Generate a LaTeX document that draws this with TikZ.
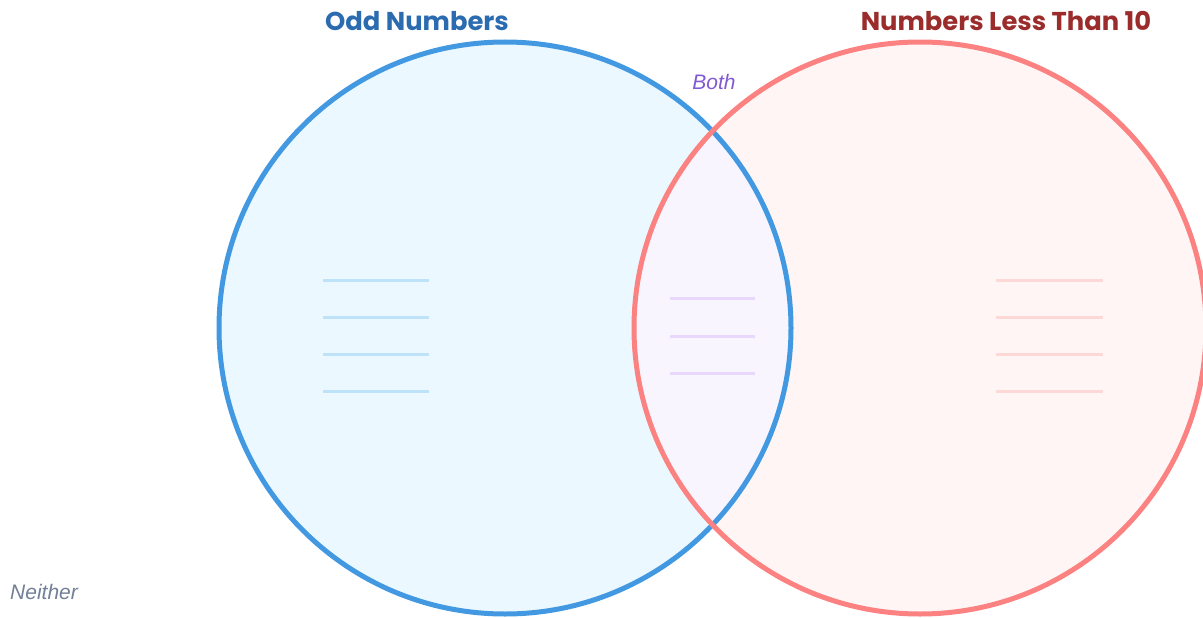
\documentclass[tikz,border=0pt]{standalone}
\usepackage{fontspec}
\newfontfamily\headfont{Poppins}
\newfontfamily\notefont{Liberation Sans}
\definecolor{oddline}{HTML}{4299E1}
\definecolor{oddfill}{HTML}{EBF8FF}
\definecolor{oddtext}{HTML}{2B6CB0}
\definecolor{oddrule}{HTML}{BEE3F8}
\definecolor{lessline}{HTML}{FC8181}
\definecolor{lessfill}{HTML}{FFF5F5}
\definecolor{lesstext}{HTML}{9B2C2C}
\definecolor{lessrule}{HTML}{FED7D7}
\definecolor{bothfill}{HTML}{F9F5FE}
\definecolor{bothtext}{HTML}{805AD5}
\definecolor{bothrule}{HTML}{E9D8FD}
\definecolor{neithertext}{HTML}{718096}
\usetikzlibrary{positioning}
\tikzset{
    settitle/.style={font=\headfont\bfseries\fontsize{25.8}{28}\selectfont,inner sep=0pt},
    setnote/.style={font=\notefont\itshape\fontsize{21}{25}\selectfont,inner sep=0pt},
    rim/.style={line width=5pt},
    rule/.style={line width=3pt}
}
\begin{document}
\begin{tikzpicture}[x=1pt,y=-1pt]
        \def\r{286}
        \useasboundingbox (0,0) rectangle (1203,618);
        \coordinate (odd) at (505,328);
        \coordinate (less) at (920,328);
        % fills
        \fill [oddfill] (odd) circle (\r);
        \fill [lessfill] (less) circle (\r);
        \begin{scope}
            \clip (odd) circle (\r);
            \fill [bothfill] (less) circle (\r);
        \end{scope}
        % writing lines
        \foreach \y in {280,317,354,391} {
            \draw [rule,oddrule] (323,\y) -- (429,\y);
            \draw [rule,lessrule] (996,\y) -- (1103,\y);
        }
        \foreach \y in {298,336,373} {
            \draw [rule,bothrule] (670,\y) -- (755,\y);
        }
        % rims
        \draw [rim,oddline] (odd) circle (\r);
        \draw [rim,lessline] (less) circle (\r);
        % labels
        \node (oddtitle) [settitle,oddtext] at (417,21) {Odd Numbers};
        \node (lesstitle) [settitle,lesstext] at (1006,21) {Numbers Less Than 10};
        \node (both) [setnote,bothtext] at (714,82) {Both};
        \node (neither) [setnote,neithertext,anchor=west] at (10,592) {Neither};
\end{tikzpicture}
\end{document}
